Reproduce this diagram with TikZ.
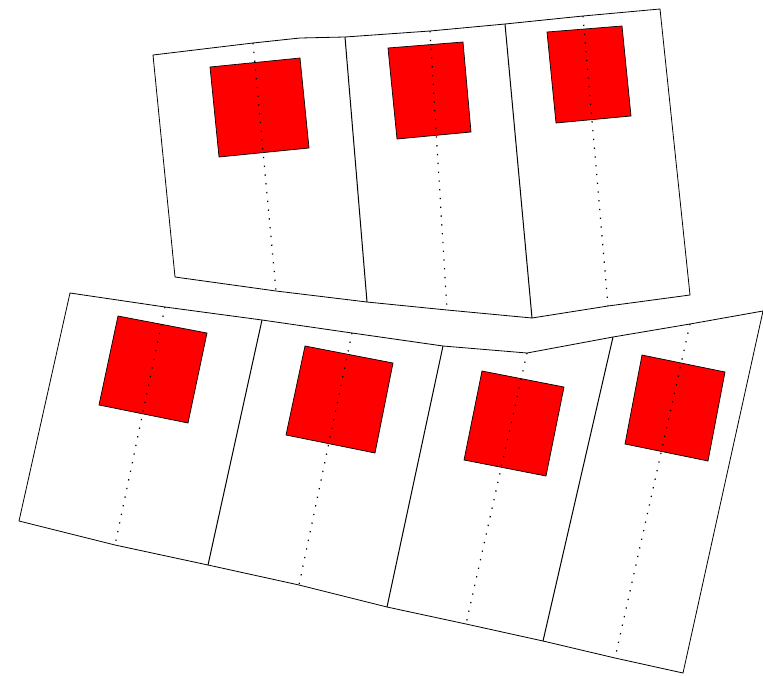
\documentclass[tikz,border=0pt]{standalone}
\usepackage{tikz}
\usetikzlibrary{calc}

\begin{document}
\begin{tikzpicture}[
  x=1pt, y=-1pt,
  outline/.style={draw, line width=0.8pt, fill=white},
  divider/.style={draw, line width=1pt},
  midline/.style={draw, line width=1.2pt, dash pattern=on 1.3pt off 7.5pt},
  plate/.style={draw, line width=0.7pt, fill=red}]
\useasboundingbox (0,0) rectangle (763,675);
% upper strip
\draw[outline] (153,55) -- (253,43) -- (300,38) -- (345,37) -- (430,31) -- (505,24)
  -- (583,16) -- (660,9) -- (690,295) -- (608,306) -- (532,318) -- (447,310)
  -- (367,302) -- (276,291) -- (175,277) -- cycle;
\draw[divider] (345,37) -- (367,302);
\draw[divider] (505,24) -- (532,318);
\foreach \a/\b/\c/\d/\e/\f/\g/\h in {
  210/67/300/58/309/148/219/157,
  388/48/463/42/471/132/397/139,
  547/32/622/26/631/116/556/123}
  \draw[plate] (\a,\b) -- (\c,\d) -- (\e,\f) -- (\g,\h) -- cycle;
\draw[midline] (253,43) -- (276,291);
\draw[midline] (430,31) -- (447,310);
\draw[midline] (583,16) -- (608,306);
% lower strip
\draw[outline] (70,293) -- (165,307) -- (262,320) -- (352,333) -- (443,346) -- (527,353)
  -- (613,337) -- (690,324) -- (763,311) -- (683,673) -- (615,658) -- (543,641)
  -- (466,624) -- (387,607) -- (299,585) -- (208,565) -- (115,545) -- (19,521) -- cycle;
\draw[divider] (262,320) -- (208,565);
\draw[divider] (443,346) -- (387,607);
\draw[divider] (613,337) -- (543,641);
\foreach \a/\b/\c/\d/\e/\f/\g/\h in {
  118/316/207/333/188/423/99/405,
  305/346/393/363/375/453/286/435,
  482/371/564/387/546/476/464/460,
  642/355/725/372/708/461/625/444}
  \draw[plate] (\a,\b) -- (\c,\d) -- (\e,\f) -- (\g,\h) -- cycle;
\draw[midline] (165,307) -- (115,545);
\draw[midline] (352,333) -- (299,585);
\draw[midline] (527,353) -- (466,624);
\draw[midline] (690,324) -- (615,658);
\end{tikzpicture}
\end{document}
